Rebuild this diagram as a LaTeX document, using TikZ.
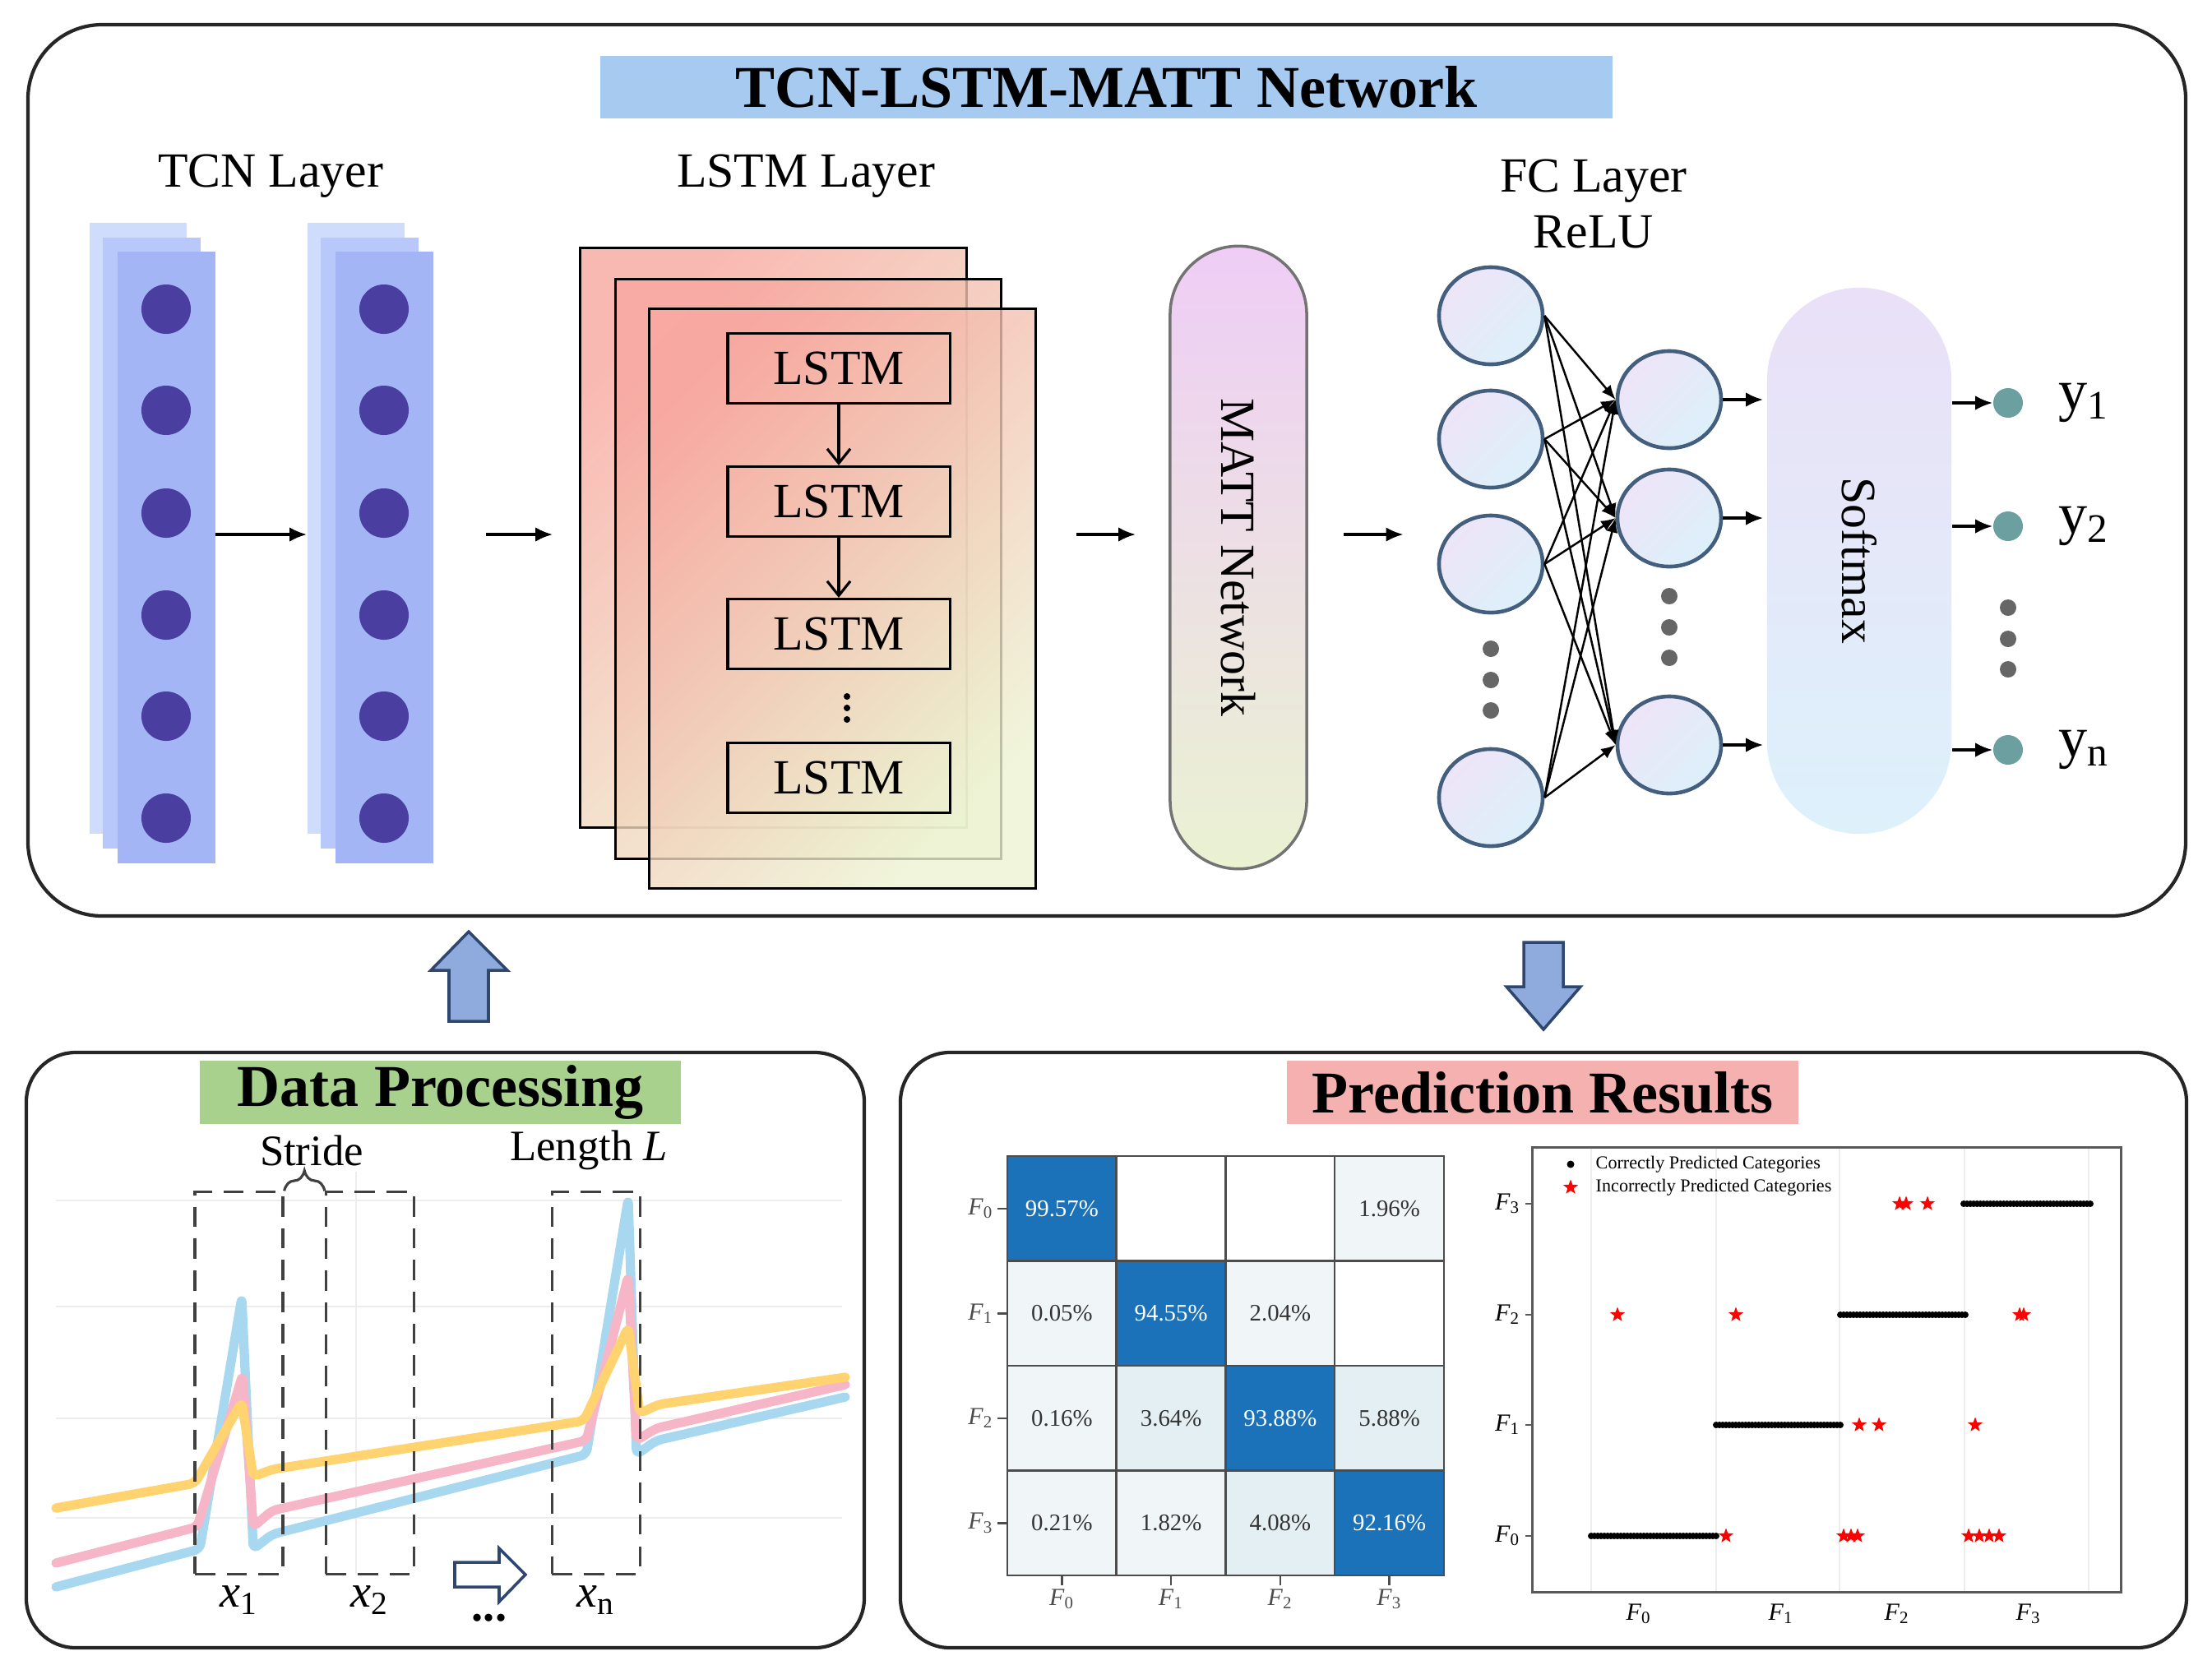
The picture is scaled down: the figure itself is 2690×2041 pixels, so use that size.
\documentclass[tikz,border=0pt]{standalone}
\usepackage{fontspec}
\setmainfont{Liberation Serif}
\usepackage{tikz}
\usetikzlibrary{arrows.meta,positioning,shapes.geometric,calc,decorations.pathreplacing}
\definecolor{ttlblue}{RGB}{167,202,240}
\definecolor{ttlgreen}{RGB}{169,209,142}
\definecolor{ttlpink}{RGB}{244,177,175}
\definecolor{tcnback}{RGB}{207,220,252}
\definecolor{tcnmid}{RGB}{184,200,250}
\definecolor{tcnfront}{RGB}{163,181,245}
\definecolor{tcndot}{RGB}{74,62,160}
\definecolor{lstmtop}{RGB}{248,168,160}
\definecolor{lstmbot}{RGB}{236,243,210}
\definecolor{mattop}{RGB}{239,205,246}
\definecolor{matbot}{RGB}{234,242,210}
\definecolor{neutop}{RGB}{238,228,248}
\definecolor{neubot}{RGB}{220,240,250}
\definecolor{neuedge}{RGB}{68,94,126}
\definecolor{softtop}{RGB}{234,224,247}
\definecolor{softbot}{RGB}{221,241,251}
\definecolor{outdot}{RGB}{108,160,160}
\definecolor{blkfill}{RGB}{143,170,220}
\definecolor{blkedge}{RGB}{47,70,110}
\definecolor{sigblue}{RGB}{168,216,240}
\definecolor{sigpink}{RGB}{246,182,200}
\definecolor{sigyel}{RGB}{255,211,112}
\definecolor{cmdark}{RGB}{28,114,184}
\definecolor{cmlight}{RGB}{240,246,248}
\definecolor{cmlightb}{RGB}{228,239,243}

\begin{document}
\begin{tikzpicture}[x=0.01cm, y=-0.01cm,
  panel/.style={draw=black!85, line width=1.2pt},
  ttl/.style={font=\bfseries\fontsize{20.5}{24}\selectfont, inner sep=0pt},
  lbl/.style={font=\fontsize{17}{19.4}\selectfont, inner sep=0pt},
  arr/.style={line width=1pt, -{Latex[length=6pt, width=5pt]}},
  inarr/.style={line width=0.9pt, -{Straight Barb[length=5pt, width=8pt]}},
  fcarr/.style={line width=0.7pt, -{Latex[length=5pt, width=4pt]}},
  tcnl/.style={minimum width=1.18cm, minimum height=7.43cm, inner sep=0pt},
  tdot/.style={circle, fill=tcndot, minimum size=0.6cm, inner sep=0pt},
  lframe/.style={draw, line width=0.9pt, minimum width=4.69cm, minimum height=7.04cm, top color=lstmtop, bottom color=lstmbot, shading angle=45, fill opacity=0.8},
  lcell/.style={draw, line width=0.9pt, minimum width=2.7cm, minimum height=0.85cm, inner sep=0pt, font=\fontsize{17}{20}\selectfont},
  vdot/.style={circle, fill=black, minimum size=0.08cm, inner sep=0pt},
  matt/.style={draw=black!55, line width=1pt, minimum width=1.66cm, minimum height=7.57cm, rounded corners=0.83cm, top color=mattop, bottom color=matbot},
  neu/.style={ellipse, draw=neuedge, line width=1.3pt, minimum width=1.26cm, minimum height=1.18cm, top color=neutop, bottom color=neubot, shading angle=45},
  gdot/.style={circle, fill=black!60, minimum size=0.2cm, inner sep=0pt},
  soft/.style={minimum width=2.24cm, minimum height=6.64cm, rounded corners=1.12cm, top color=softtop, bottom color=softbot},
  odot/.style={circle, fill=outdot, minimum size=0.36cm, inner sep=0pt},
  ylbl/.style={font=\fontsize{20}{24}\selectfont, inner sep=0pt},
  blk/.style={draw=blkedge, line width=1pt, fill=blkfill},
  grid/.style={draw=black!7, line width=0.6pt},
  sig/.style={line width=3.2pt, line join=round, line cap=round, rounded corners=2pt},
  win/.style={draw=black!75, line width=0.9pt, dash pattern=on 7pt off 4pt, minimum width=1.07cm, minimum height=4.64cm, inner sep=0pt},
  brc/.style={draw=black!75, line width=0.9pt, decorate, decoration={brace, amplitude=7pt}},
  sml/.style={font=\fontsize{15}{18}\selectfont, inner sep=0pt},
  xlbl/.style={font=\fontsize{16}{19}\selectfont, inner sep=0pt},
  hol/.style={draw=blkedge, line width=1pt, fill=white},
  cell/.style={draw=black!70, line width=0.7pt, minimum width=1.3275cm, minimum height=1.275cm, inner sep=0pt, font=\fontsize{8.2}{10}\selectfont},
  axl/.style={font=\fontsize{8.5}{10}\selectfont, inner sep=1pt},
  rstar/.style={star, star points=5, star point ratio=2.4, fill=red, inner sep=0pt, minimum size=0.19cm},
  leg/.style={font=\fontsize{6.3}{7}\selectfont, inner sep=0pt, anchor=west}
]
\useasboundingbox (0,0) rectangle (2690,2041);

\draw[panel, rounded corners=0.9cm] (34,30) rectangle (2658,1114);
\draw[panel, rounded corners=0.6cm] (32,1280) rectangle (1051,2004);
\draw[panel, rounded corners=0.6cm] (1095,1280) rectangle (2659,2004);

\node[ttl, fill=ttlblue, minimum width=12.31cm, minimum height=0.76cm] (nettl) at (1345.5,106) {TCN-LSTM-MATT Network};
\node[ttl, fill=ttlgreen, minimum width=5.85cm, minimum height=0.77cm] (dptl) at (535.5,1328.5) {Data Processing};
\node[ttl, fill=ttlpink, minimum width=6.22cm, minimum height=0.77cm] (prtl) at (1876,1328.5) {Prediction Results};

\coordinate (mid) at (0,650);

\node[lbl] (tcnlbl) at (329,214) {TCN Layer};
\foreach \cx/\n in {0/1,265/2} {
  \node[tcnl, fill=tcnback] (tcnb\n) at ({168+\cx},642.5) {};
  \node[tcnl, fill=tcnmid] (tcnm\n) at ({184.5+\cx},660.5) {};
  \node[tcnl, fill=tcnfront] (tcn\n) at ({202.5+\cx},678) {};
  \foreach \dy [count=\k] in {376,499,624,748,871,995}
    \node[tdot] (dot\n\k) at ({202+\cx},\dy) {};
}
\draw[arr] (tcn1.east |- mid) -- (tcnb2.west |- mid);

\node[lbl] (lstmlbl) at (980,214) {LSTM Layer};
\node[lframe] (lstmb) at (940.5,654) {};
\node[lframe] (lstmm) at (983,692) {};
\node[lframe] (lstmf) at (1024.5,728) {};
\node[lcell] (ls1) at (1020,448) {LSTM};
\node[lcell] (ls2) at (1020,610) {LSTM};
\node[lcell] (ls3) at (1020,771) {LSTM};
\node[lcell] (ls4) at (1020,946) {LSTM};
\foreach \yy [count=\k] in {847,861,875}
  \node[vdot] (lsv\k) at (1030,\yy) {};
\draw[inarr] (ls1) -- (ls2);
\draw[inarr] (ls2) -- (ls3);
\draw[arr, shorten <=0.64cm, shorten >=0.32cm] (tcn2.east |- mid) -- (lstmb.west |- mid);

\node[matt] (matt) at (1506,678) {};
\node[lbl, rotate=-90] (matttxt) at (matt.center) {MATT Network};
\draw[arr, shorten <=0.48cm, shorten >=0.4cm] (lstmf.east |- mid) -- (matt.west |- mid);

\node[lbl, align=center] (fclbl) at (1938,248) {FC Layer\\ReLU};
\foreach \yy [count=\i] in {384,534,686,970}
  \node[neu] (in\i) at (1813,\yy) {};
\foreach \yy [count=\j] in {486,630,906}
  \node[neu] (hd\j) at (2030,\yy) {};
\foreach \yy [count=\k] in {789,827,864}
  \node[gdot] (ig\k) at (1813,\yy) {};
\foreach \yy [count=\k] in {725,763,800}
  \node[gdot] (hg\k) at (2030,\yy) {};
\foreach \i in {1,...,4}
  \foreach \j in {1,2,3}
    \draw[fcarr] (in\i.east) -- (hd\j.west);
\draw[arr, shorten <=0.43cm, shorten >=0.41cm] (matt.east |- mid) -- (in1.west |- mid);

\node[soft] (soft) at (2261,682) {};
\node[lbl, rotate=-90] (softtxt) at (soft.center) {Softmax};
\foreach \j in {1,2,3}
  \draw[arr, shorten >=0.04cm] (hd\j.east) -- (hd\j.east -| soft.west);
\foreach \yy/\s [count=\k] in {490/1,640/2,912/n} {
  \node[odot] (out\k) at (2442,\yy) {};
  \draw[arr] (soft.east |- out\k) -- (out\k.west);
  \node[ylbl, right=0.42cm of out\k] (y\k) {y\textsubscript{\s}};
}
\foreach \yy [count=\k] in {739,777,814}
  \node[gdot] (og\k) at (2442,\yy) {};

\draw[blk] (570,1133) -- (617,1180) -- (594,1180) -- (594,1242) -- (546,1242) -- (546,1180) -- (524,1180) -- cycle;
\draw[blk] (1877,1252) -- (1922,1200) -- (1901,1200) -- (1901,1146) -- (1853,1146) -- (1853,1200) -- (1832,1200) -- cycle;

\foreach \yy in {1460,1589,1725,1846}
  \draw[grid] (68,\yy) -- (1024,\yy);
\draw[grid] (433,1425) -- (433,1914);
\draw[sig, draw=sigblue] (68,1930) -- (243,1884) -- (294,1578) -- (308,1884) -- (331,1866) -- (713,1769) -- (764,1458) -- (774,1769) -- (798,1752) -- (1028,1699);
\draw[sig, draw=sigpink] (68,1901) -- (240,1857) -- (295,1672) -- (308,1857) -- (331,1837) -- (713,1752) -- (764,1552) -- (774,1752) -- (798,1737) -- (1028,1684);
\draw[sig, draw=sigyel] (68,1834) -- (237,1804) -- (294,1705) -- (308,1796) -- (331,1787) -- (710,1728) -- (764,1614) -- (778,1719) -- (801,1708) -- (1028,1675);

\node[win] (w1) at (290.5,1682) {};
\node[win] (w2) at (450,1682) {};
\node[win] (wn) at (725,1682) {};
\draw[brc] (w1.north east) -- (w2.north west);
\node[sml] (stride) at (379,1399) {Stride};
\node[sml] (lenL) at (716,1399) {Length \textit{L}};
\node[xlbl, below=0.12cm of w1] (xl1) {\textit{x}\textsubscript{1}};
\node[xlbl, below=0.12cm of w2] (xl2) {\textit{x}\textsubscript{2}};
\node[xlbl, below=0.12cm of wn] (xln) {\textit{x}\textsubscript{n}};
\draw[hol] (553,1900) -- (607,1900) -- (607,1883) -- (639,1915) -- (607,1948) -- (607,1930) -- (553,1930) -- cycle;
\node[xlbl] (etc) at (595,1968) {\textbf{...}};

\foreach \r/\c/\f/\t/\v in {0/0/cmdark/white/99.57\%, 0/1/white/white/{}, 0/2/white/white/{}, 0/3/cmlight/black!80/1.96\%,
  1/0/cmlight/black!80/0.05\%, 1/1/cmdark/white/94.55\%, 1/2/cmlight/black!80/2.04\%, 1/3/white/white/{},
  2/0/cmlight/black!80/0.16\%, 2/1/cmlightb/black!80/3.64\%, 2/2/cmdark/white/93.88\%, 2/3/cmlightb/black!80/5.88\%,
  3/0/cmlight/black!80/0.21\%, 3/1/cmlight/black!80/1.82\%, 3/2/cmlightb/black!80/4.08\%, 3/3/cmdark/white/92.16\%}
  \node[cell, fill=\f, text=\t] (cm\r\c) at ({1225+132.75*(\c+0.5)},{1406+127.5*(\r+0.5)}) {\v};
\foreach \k in {0,...,3} {
  \draw[black!70, line width=0.7pt] (cm\k0.west) -- ([xshift=-0.11cm]cm\k0.west) node[left, axl] (cmy\k) {\textit{F}\textsubscript{\k}};
  \draw[black!70, line width=0.7pt] (cm3\k.south) -- ([yshift=-0.11cm]cm3\k.south) node[below, axl] (cmx\k) {\textit{F}\textsubscript{\k}};
}

\foreach \xx in {1935,2087,2237,2389,2540}
  \draw[grid] (\xx,1397) -- (\xx,1935);
\node[draw=black!65, line width=0.8pt, minimum width=7.15cm, minimum height=5.4cm, inner sep=0pt] (sc) at (2221.5,1666) {};
\foreach \yy/\k in {1868/0,1733/1,1599/2,1464/3} {
  \draw[black!65, line width=0.7pt] (sc.west |- 0,\yy) -- ++(-7,0);
  \node[axl, anchor=east] (scy\k) at (1853,\yy) {\textit{F}\textsubscript{\k}};
}
\foreach \xx/\k in {1993/0,2166/1,2307/2,2467/3}
  \node[axl] (scx\k) at (\xx,1963) {\textit{F}\textsubscript{\k}};
\foreach \a/\b/\yy in {1935/2087/1868, 2087/2238/1733, 2238/2390/1599, 2388/2542/1464}
  \foreach \k in {0,...,38}
    \fill ({\a+\k*(\b-\a)/38},\yy) circle[radius=0.04cm];
\foreach \xx/\yy [count=\n] in {2310/1464, 2318/1464, 2344/1464, 1967/1599, 2111/1599, 2456/1599, 2461/1599,
  2261/1733, 2285/1733, 2402/1733, 2099/1868, 2242/1868, 2251/1868, 2259/1868, 2394/1868, 2407/1868, 2419/1868, 2431/1868}
  \node[rstar] (st\n) at (\xx,\yy) {};
\fill (1910,1416) circle[radius=0.045cm];
\node[rstar] (lgstar) at (1910,1444) {};
\node[leg] (lgc) at (1940,1416) {Correctly Predicted Categories};
\node[leg] (lgi) at (1940,1444) {Incorrectly Predicted Categories};
\end{tikzpicture}
\end{document}
